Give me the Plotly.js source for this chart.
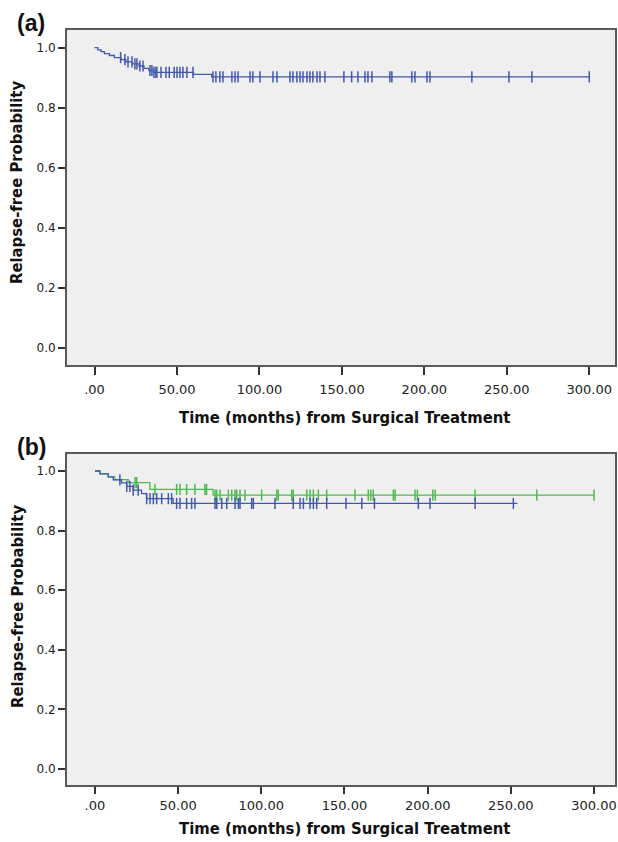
<!DOCTYPE html>
<html>
<head>
<meta charset="utf-8">
<script src="https://cdn.plot.ly/plotly-3.0.1.min.js"></script>
<style>html,body{margin:0;padding:0;background:#fff;}#chart{width:618px;height:842px;}</style>
</head>
<body>
<div id="chart"></div>
<script>
// ---- tick labels ----
const xTickVals = [0, 50, 100, 150, 200, 250, 300];
const xTickText = ['.00', '50.00', '100.00', '150.00', '200.00', '250.00', '300.00'];
const yTickVals = [0, 0.2, 0.4, 0.6, 0.8, 1.0];
const yTickText = ['0.0', '0.2', '0.4', '0.6', '0.8', '1.0'];

// ---- panel (a): all patients ----
const aEventTimes = [0, 2, 4, 6, 9, 12, 16, 19, 23, 27, 30, 33, 36, 60, 71];
const aSurvival   = [1.0, 0.993, 0.987, 0.980, 0.974, 0.967, 0.960, 0.953, 0.946, 0.939, 0.931, 0.924, 0.918, 0.911, 0.903];
const aEndTime = 300;
const aCensorTimes = [15.8, 18.4, 20.3, 22.7, 24.5, 25.7, 27.5, 29.4, 33.6, 34.8, 36, 37.2, 37.8, 40.3, 43.3, 45.3, 48.3, 50, 51.8, 53.6, 56, 59.7,
  71.8, 73.6, 76, 77.9, 83.3, 85.2, 87, 94.3, 96, 100.3, 108.2, 110.6, 118.5, 120.3, 122.7, 124.6, 126.4, 128.8, 130.6, 132.4, 134.9, 136.7, 139.7,
  151.2, 155.9, 159.7, 164, 165.8, 168.2, 179.1, 180.3, 192.4, 194.3, 201.6, 203.4, 228.8, 251.3, 265.2, 300];

// ---- panel (b): blue group ----
const bBlueEventTimes = [0, 3, 8, 11, 16, 19, 23, 28, 31, 47];
const bBlueSurvival   = [1.0, 0.99, 0.98, 0.97, 0.96, 0.948, 0.936, 0.924, 0.907, 0.891];
const bBlueEndTime = 254;
const bBlueCensorTimes = [15, 19.1, 21, 23, 26, 31.1, 33.1, 35.1, 37.1, 40.1, 44.1, 46.1, 49.1, 51.1, 55.1, 58.1, 60.1, 72.2, 73.2, 76.2, 79.2,
  84.2, 86.2, 87.2, 94.2, 95.2, 108.2, 119.2, 123.3, 125.3, 129.3, 131.3, 133.3, 139.3, 150.9, 160.4, 168, 194.4, 201.4, 228.5, 251.5];

// ---- panel (b): green group ----
const bGreenEventTimes = [0, 3, 8, 12, 20, 33, 71];
const bGreenSurvival   = [1.0, 0.99, 0.98, 0.971, 0.961, 0.938, 0.919];
const bGreenEndTime = 300;
const bGreenCensorTimes = [24.1, 25.1, 36.1, 49.1, 51.1, 55.1, 60.1, 66.1, 67.1, 72.2, 73.2, 75.2, 80.2, 82.2, 84.2, 85.2, 87.2, 90.2, 100.2,
  109.3, 110.2, 118.3, 119.2, 127.3, 129.3, 131.3, 134.3, 139.3, 156.3, 164.3, 165.8, 167.3, 179.4, 180.4, 192.4, 193.8, 203.1, 204.5, 228.5, 265.6, 300];

const BLUE = '#4257ad';
const GREEN = '#4dba4f';

function survAt(times, surv, t) {
  let v = surv[0];
  for (let i = 0; i < times.length; i++) { if (times[i] <= t) v = surv[i]; }
  return v;
}
function curveTrace(times, surv, endT, color, xa, ya) {
  return {
    type: 'scatter', mode: 'lines', x: times.concat([endT]), y: surv.concat([surv[surv.length - 1]]),
    line: {shape: 'hv', color: color, width: 1.3}, xaxis: xa, yaxis: ya, hoverinfo: 'skip'
  };
}
function censorTrace(times, surv, cens, color, xa, ya) {
  return {
    type: 'scatter', mode: 'markers', x: cens, y: cens.map(t => survAt(times, surv, t)),
    marker: {symbol: 'line-ns', size: 8, color: color, line: {color: color, width: 1.5}},
    xaxis: xa, yaxis: ya, hoverinfo: 'skip'
  };
}

const data = [
  curveTrace(aEventTimes, aSurvival, aEndTime, BLUE, 'x', 'y'),
  censorTrace(aEventTimes, aSurvival, aCensorTimes, BLUE, 'x', 'y'),
  curveTrace(bGreenEventTimes, bGreenSurvival, bGreenEndTime, GREEN, 'x2', 'y2'),
  censorTrace(bGreenEventTimes, bGreenSurvival, bGreenCensorTimes, GREEN, 'x2', 'y2'),
  curveTrace(bBlueEventTimes, bBlueSurvival, bBlueEndTime, BLUE, 'x2', 'y2'),
  censorTrace(bBlueEventTimes, bBlueSurvival, bBlueCensorTimes, BLUE, 'x2', 'y2')
];

const W = 618, H = 842;
const tickFont = {family: 'DejaVu Sans', size: 13, color: '#222'};
const yTickFont = {family: 'DejaVu Sans', size: 12, color: '#222'};
function xAxis(domain, range, anchor, ticklen, standoff) {
  return {
    domain: domain, range: range, anchor: anchor, tickmode: 'array', tickvals: xTickVals, ticktext: xTickText,
    ticks: 'outside', ticklen: ticklen, tickwidth: 2, tickcolor: '#333', showgrid: false, zeroline: false,
    showline: true, mirror: true, linecolor: '#5a5a5a', linewidth: 2, tickfont: tickFont, fixedrange: true,
    ticklabelstandoff: standoff
  };
}
function yAxis(domain, range, anchor) {
  return {
    domain: domain, range: range, anchor: anchor, tickmode: 'array', tickvals: yTickVals, ticktext: yTickText,
    ticks: 'outside', ticklen: 7, tickwidth: 2, tickcolor: '#333', showgrid: false, zeroline: false,
    showline: true, mirror: true, linecolor: '#5a5a5a', linewidth: 2, tickfont: yTickFont, fixedrange: true
  };
}
const xDom = [67 / W, 615 / W];
const titleFont = {family: 'DejaVu Sans Condensed', size: 16.5, color: '#111', weight: 'bold'};
function ann(text, px, py, font, angle) {
  return {text: text, x: px / W, y: 1 - py / H, xref: 'paper', yref: 'paper', showarrow: false,
    xanchor: 'center', yanchor: 'middle', font: font, textangle: angle || 0};
}
const layout = {
  width: W, height: H, margin: {l: 0, r: 0, t: 0, b: 0}, showlegend: false,
  paper_bgcolor: '#ffffff', plot_bgcolor: '#efefef',
  xaxis: xAxis(xDom, [-16.7, 315.6], 'y', 8, 3),
  yaxis: yAxis([(H - 365) / H, (H - 30) / H], [-0.0577, 1.059], 'x'),
  xaxis2: xAxis(xDom, [-16.8, 312.6], 'y2', 7, 0),
  yaxis2: yAxis([(H - 785) / H, (H - 454) / H], [-0.054, 1.057], 'x2'),
  annotations: [
    ann('(a)', 31, 23, {family: 'Liberation Sans', size: 23, color: '#111', weight: 'bold'}),
    ann('(b)', 31, 447, {family: 'Liberation Sans', size: 23, color: '#111', weight: 'bold'}),
    ann('Time (months) from Surgical Treatment', 344, 417, titleFont),
    ann('Time (months) from Surgical Treatment', 344, 828, titleFont),
    ann('Relapse-free Probability', 17, 183, titleFont, -90),
    ann('Relapse-free Probability', 17, 607, titleFont, -90)
  ]
};
Plotly.newPlot('chart', data, layout, {staticPlot: true, displayModeBar: false});
</script>
</body>
</html>
